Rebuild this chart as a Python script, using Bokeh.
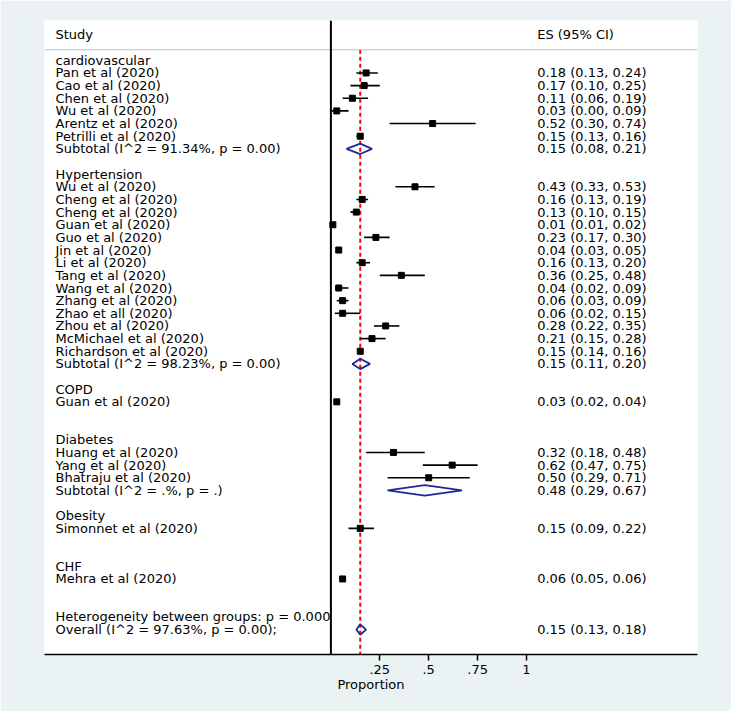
from bokeh.plotting import figure
from bokeh.models import Range1d, Span, FixedTicker
from bokeh.core.properties import value
from bokeh.embed import file_html
from bokeh.resources import INLINE

# ---------------- data ----------------
group_names = ["cardiovascular", "Hypertension", "COPD", "Diabetes", "Obesity", "CHF"]

cardio_studies = ["Pan et al (2020)", "Cao et al (2020)", "Chen et al (2020)", "Wu et al (2020)",
                  "Arentz et al (2020)", "Petrilli et al (2020)"]
cardio_es = [0.18, 0.17, 0.11, 0.03, 0.52, 0.15]
cardio_lo = [0.13, 0.10, 0.06, 0.00, 0.30, 0.13]
cardio_hi = [0.24, 0.25, 0.19, 0.09, 0.74, 0.16]
cardio_sub = [0.15, 0.08, 0.21]
cardio_sub_label = "Subtotal  (I^2 = 91.34%, p = 0.00)"

hyp_studies = ["Wu et al (2020)", "Cheng et al  (2020)", "Cheng et al  (2020)", "Guan et al (2020)",
               "Guo et al (2020)", "Jin et al (2020)", "Li et al (2020)", "Tang et al (2020)",
               "Wang et al (2020)", "Zhang et al (2020)", "Zhao et all (2020)", "Zhou et al (2020)",
               "McMichael et al (2020)", "Richardson et al (2020)"]
hyp_es = [0.43, 0.16, 0.13, 0.01, 0.23, 0.04, 0.16, 0.36, 0.04, 0.06, 0.06, 0.28, 0.21, 0.15]
hyp_lo = [0.33, 0.13, 0.10, 0.01, 0.17, 0.03, 0.13, 0.25, 0.02, 0.03, 0.02, 0.22, 0.15, 0.14]
hyp_hi = [0.53, 0.19, 0.15, 0.02, 0.30, 0.05, 0.20, 0.48, 0.09, 0.09, 0.15, 0.35, 0.28, 0.16]
hyp_sub = [0.15, 0.11, 0.20]
hyp_sub_label = "Subtotal  (I^2 = 98.23%, p = 0.00)"

copd_studies = ["Guan et al (2020)"]
copd_es = [0.03]
copd_lo = [0.02]
copd_hi = [0.04]

diab_studies = ["Huang et al (2020)", "Yang et al (2020)", "Bhatraju et al (2020)"]
diab_es = [0.32, 0.62, 0.50]
diab_lo = [0.18, 0.47, 0.29]
diab_hi = [0.48, 0.75, 0.71]
diab_sub = [0.48, 0.29, 0.67]
diab_sub_label = "Subtotal  (I^2 = .%, p = .)"

obes_studies = ["Simonnet et al (2020)"]
obes_es = [0.15]
obes_lo = [0.09]
obes_hi = [0.22]

chf_studies = ["Mehra et al (2020)"]
chf_es = [0.06]
chf_lo = [0.05]
chf_hi = [0.06]

overall = [0.15, 0.13, 0.18]
overall_label = "Overall  (I^2 = 97.63%, p = 0.00);"
het_label = "Heterogeneity between groups: p = 0.000"

x_ticks = [0.25, 0.5, 0.75, 1]
x_tick_labels = [".25", ".5", ".75", "1"]
header_left = "Study"
header_right = "ES (95% CI)"
x_label = "Proportion"

groups = [
    (group_names[0], cardio_studies, cardio_es, cardio_lo, cardio_hi, cardio_sub, cardio_sub_label),
    (group_names[1], hyp_studies, hyp_es, hyp_lo, hyp_hi, hyp_sub, hyp_sub_label),
    (group_names[2], copd_studies, copd_es, copd_lo, copd_hi, None, None),
    (group_names[3], diab_studies, diab_es, diab_lo, diab_hi, diab_sub, diab_sub_label),
    (group_names[4], obes_studies, obes_es, obes_lo, obes_hi, None, None),
    (group_names[5], chf_studies, chf_es, chf_lo, chf_hi, None, None),
]

# ---------------- build rows ----------------
labels, label_y = [], []
st_y, st_es, st_lo, st_hi = [], [], [], []
dia_y, dia_es, dia_lo, dia_hi = [], [], [], []
es_text, es_text_y = [], []

def fmt(e, l, h):
    return f"{e:.2f} ({l:.2f}, {h:.2f})"

row = 0
for name, studies, es, lo, hi, sub, sub_label in groups:
    labels.append(name); label_y.append(row); row += 1
    for s, e, l, h in zip(studies, es, lo, hi):
        labels.append(s); label_y.append(row)
        st_y.append(row); st_es.append(e); st_lo.append(l); st_hi.append(h)
        es_text.append(fmt(e, l, h)); es_text_y.append(row)
        row += 1
    if sub is not None:
        labels.append(sub_label); label_y.append(row)
        dia_y.append(row); dia_es.append(sub[0]); dia_lo.append(sub[1]); dia_hi.append(sub[2])
        es_text.append(fmt(*sub)); es_text_y.append(row)
    row += 1  # subtotal row (blank if single study)
    row += 1  # blank separator

labels.append(het_label); label_y.append(row); row += 1
labels.append(overall_label); label_y.append(row)
dia_y.append(row); dia_es.append(overall[0]); dia_lo.append(overall[1]); dia_hi.append(overall[2])
es_text.append(fmt(*overall)); es_text_y.append(row)

# ---------------- figure ----------------
row_px = 12.65
row0_px = 59.8
frame_top_px, frame_bot_px = 20.0, 654.0
px_per_unit = 195.6
zero_px = 330.4
frame_left_px, frame_right_px = 44.0, 697.0
W, H = 731, 711

y_start = (frame_bot_px - row0_px) / row_px
y_end = (frame_top_px - row0_px) / row_px
x_start = (frame_left_px - zero_px) / px_per_unit
x_end = (frame_right_px - zero_px) / px_per_unit

p = figure(width=W, height=H, output_backend="svg", toolbar_location=None,
           x_range=Range1d(x_start, x_end), y_range=Range1d(y_start, y_end),
           y_axis_location=None,
           min_border_left=int(frame_left_px), min_border_right=int(W - frame_right_px),
           min_border_top=int(frame_top_px), min_border_bottom=int(H - frame_bot_px))
p.border_fill_color = "#EAF2F3"
p.background_fill_color = "white"
p.outline_line_color = None
p.xgrid.visible = False
p.ygrid.visible = False

FONT = value("DejaVu Sans")
FS = "13px"

header_y = (33.6 - row0_px) / row_px
header_line_y = (49.3 - row0_px) / row_px
left_x = (55.0 - zero_px) / px_per_unit
right_x = (536.7 - zero_px) / px_per_unit

p.add_layout(Span(location=header_line_y, dimension="width", line_color="#BDBDBD", line_width=1))
p.add_layout(Span(location=0, dimension="height", line_color="black", line_width=2))

# red dashed overall line
p.segment(x0=[overall[0]], x1=[overall[0]], y0=[header_line_y], y1=[y_start],
          line_color="red", line_width=2, line_dash="4 3")

# CIs and boxes
p.segment(x0=st_lo, x1=st_hi, y0=st_y, y1=st_y, line_color="black", line_width=1.6)
p.scatter(x=st_es, y=st_y, marker="square", size=6, fill_color="black", line_color="black")

# diamonds
h = 0.41
xs = [[l, e, hh, e, l] for e, l, hh in zip(dia_es, dia_lo, dia_hi)]
ys = [[y, y - h, y, y + h, y] for y in dia_y]
p.patches(xs=xs, ys=ys, fill_color=None, line_color="#1B2A96", line_width=1.8)

# texts
p.text(x=[left_x] * len(labels), y=label_y, text=labels, text_font=FONT, text_font_size=FS,
       text_baseline="middle", text_align="left", text_color="black")
p.text(x=[right_x] * len(es_text), y=es_text_y, text=es_text, text_font=FONT, text_font_size=FS,
       text_baseline="middle", text_align="left", text_color="black")
p.text(x=[left_x, right_x], y=[header_y, header_y], text=[header_left, header_right],
       text_font=FONT, text_font_size=FS, text_baseline="middle", text_align="left",
       text_color="black")

# x axis
ax = p.xaxis[0]
ax.ticker = FixedTicker(ticks=x_ticks)
ax.major_label_overrides = {t: s for t, s in zip(x_ticks, x_tick_labels)}
ax.axis_line_color = "black"
ax.axis_line_width = 1.5
ax.major_tick_line_color = "black"
ax.major_tick_line_width = 1.5
ax.major_tick_out = 6
ax.major_tick_in = 0
ax.minor_tick_line_color = None
ax.major_label_text_font = "DejaVu Sans"
ax.major_label_text_font_size = FS
ax.major_label_text_color = "black"
ax.major_label_standoff = 4
ax.axis_label = x_label
ax.axis_label_text_font = "DejaVu Sans"
ax.axis_label_text_font_size = FS
ax.axis_label_text_font_style = "normal"
ax.axis_label_text_color = "black"
ax.axis_label_standoff = 0

open("out.html", "w").write(file_html(p, INLINE))
